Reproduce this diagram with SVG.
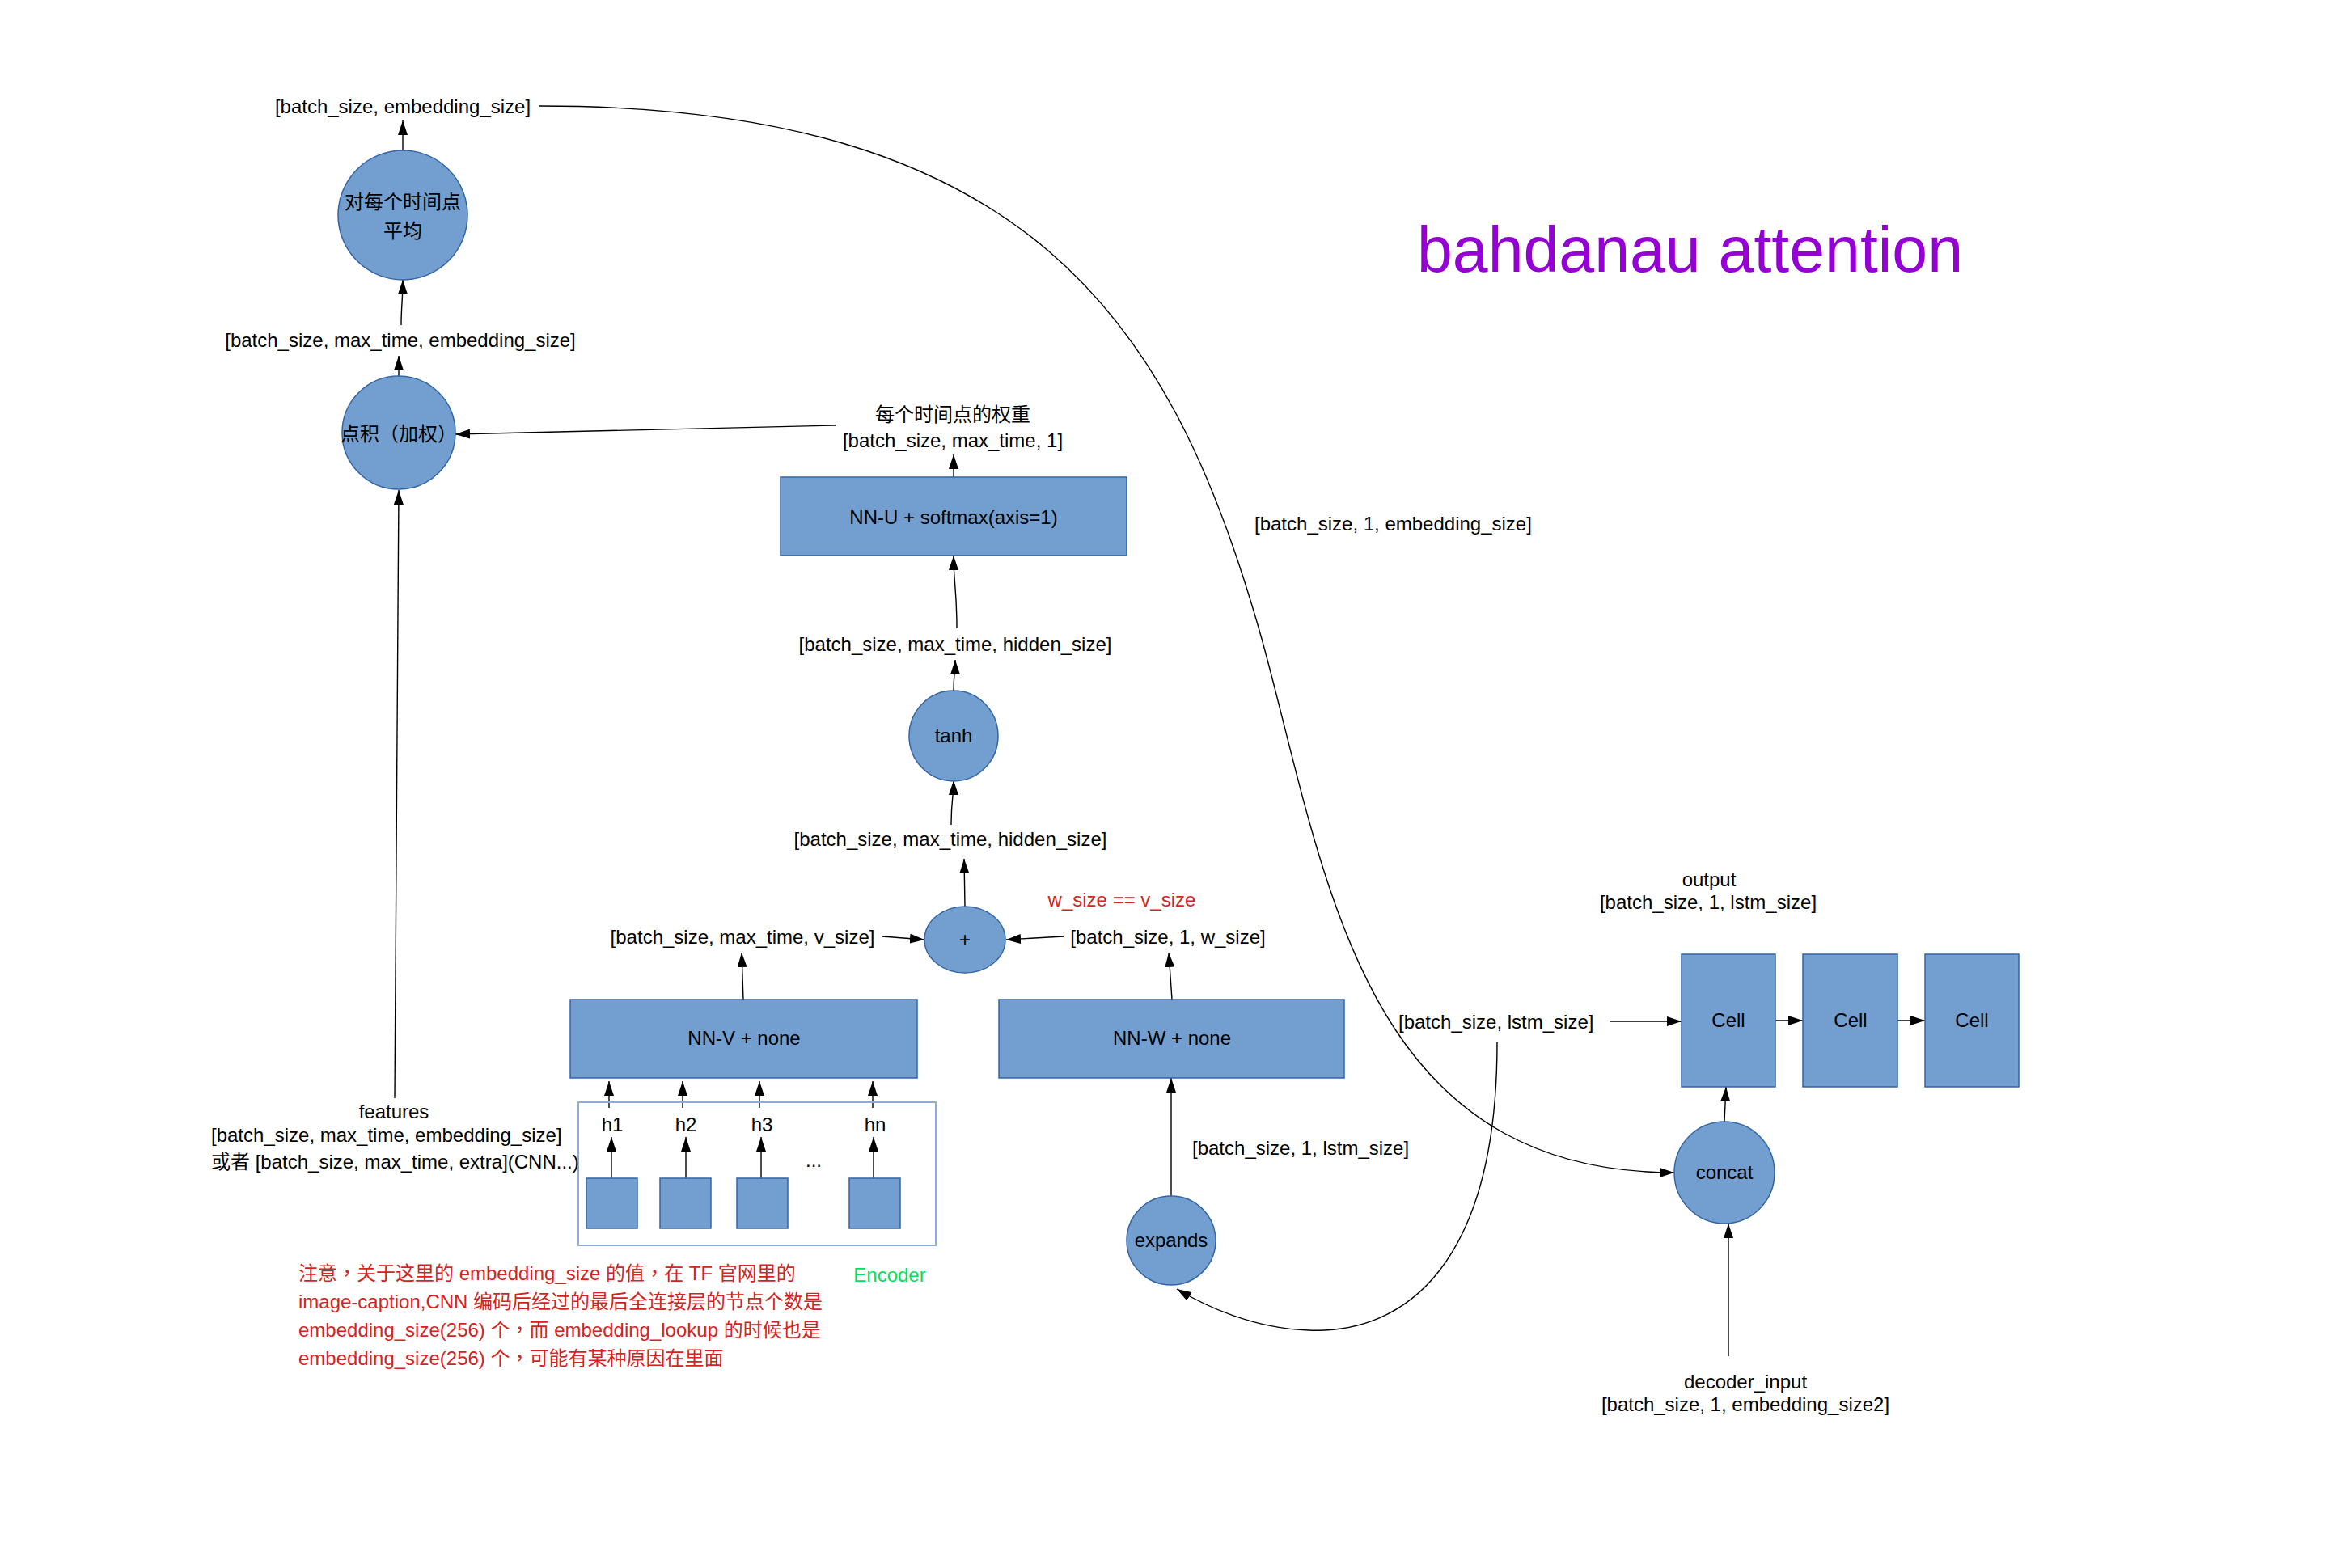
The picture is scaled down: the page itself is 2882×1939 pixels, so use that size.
<svg xmlns="http://www.w3.org/2000/svg" width="2882" height="1939" viewBox="0 0 2882 1939">
<defs>
<marker id="ah" markerWidth="18" markerHeight="12" refX="18" refY="6" orient="auto" markerUnits="userSpaceOnUse"><path d="M0,0 L18,6 L0,12 z" fill="#000"/></marker>
<style>
.n{fill:#729fcf;stroke:#3465a4;stroke-width:1.5}
.t{font-family:"Liberation Sans","Noto Sans CJK SC",sans-serif;font-size:24px;fill:#000}
.c{text-anchor:middle}
.e{fill:none;stroke:#000;stroke-width:1.4;marker-end:url(#ah)}
.red{fill:#d6231e}
.p{font-family:"Noto Sans CJK TC",sans-serif}
</style>
</defs>
<rect width="2882" height="1939" fill="#fff"/>

<g id="connectors">
<path class="e" d="M498,187 L498,149"/>
<path class="e" d="M496,402 C496,380 498,370 498,346"/>
<path class="e" d="M493,466 L493,440"/>
<path class="e" d="M1033,526 L563,537"/>
<path class="e" d="M488,1358 L493,606"/>
<path class="e" d="M1179,590 L1179,562"/>
<path class="e" d="M1183,777 C1183,730 1179,720 1179,687"/>
<path class="e" d="M1179,854 C1179,835 1181,830 1181,816"/>
<path class="e" d="M1176,1020 C1176,990 1179,985 1179,965"/>
<path class="e" d="M1193,1121 L1192,1062"/>
<path class="e" d="M1091,1158 L1143,1162"/>
<path class="e" d="M1315,1158 L1244,1162"/>
<path class="e" d="M919,1236 L917,1178"/>
<path class="e" d="M1449,1236 L1445,1178"/>
<path class="e" d="M753,1370 L753,1337"/>
<path class="e" d="M844,1370 L844,1337"/>
<path class="e" d="M939,1370 L939,1337"/>
<path class="e" d="M1079,1370 L1079,1337"/>
<path class="e" d="M756,1457 L756,1406"/>
<path class="e" d="M848,1457 L848,1406"/>
<path class="e" d="M941,1457 L941,1406"/>
<path class="e" d="M1080,1457 L1080,1406"/>
<path class="e" d="M1448,1479 L1448,1333"/>
<path class="e" d="M1851,1289 C1851,1560 1740,1650 1618,1645 C1550,1643 1490,1615 1455,1594"/>
<path class="e" d="M667,131 C1267,131 1448,390 1560,790 C1640,1080 1680,1450 2070,1450"/>
<path class="e" d="M1990,1263 L2079,1263"/>
<path class="e" d="M2195,1262 L2229,1262"/>
<path class="e" d="M2346,1262 L2380,1262"/>
<path class="e" d="M2132,1387 L2134,1344"/>
<path class="e" d="M2137,1677 L2137,1513"/>
</g>

<g id="node-avg">
<circle class="n" cx="498" cy="266" r="80"/>
<text class="t c" x="498" y="258">对每个时间点</text>
<text class="t c" x="498" y="294">平均</text>
</g>
<g id="node-dot">
<circle class="n" cx="493" cy="535" r="70"/>
<text class="t c" x="493" y="545">点积<tspan class="p">（</tspan>加权<tspan class="p">）</tspan></text>
</g>
<g id="node-nnu">
<rect class="n" x="965" y="590" width="428" height="97"/>
<text class="t c" x="1179" y="648">NN-U + softmax(axis=1)</text>
</g>
<g id="node-tanh">
<ellipse class="n" cx="1179" cy="910" rx="55" ry="56"/>
<text class="t c" x="1179" y="918">tanh</text>
</g>
<g id="node-plus">
<ellipse class="n" cx="1193" cy="1162" rx="50" ry="41"/>
<text class="t c" x="1193" y="1170">+</text>
</g>
<g id="node-nnv">
<rect class="n" x="705" y="1236" width="429" height="97"/>
<text class="t c" x="920" y="1292">NN-V + none</text>
</g>
<g id="node-nnw">
<rect class="n" x="1235" y="1236" width="427" height="97"/>
<text class="t c" x="1449" y="1292">NN-W + none</text>
</g>
<g id="node-encoder">
<rect x="715" y="1363" width="442" height="177" fill="none" stroke="#8eaad8" stroke-width="2"/>
<rect class="n" x="725" y="1457" width="63" height="62"/>
<rect class="n" x="816" y="1457" width="63" height="62"/>
<rect class="n" x="911" y="1457" width="63" height="62"/>
<rect class="n" x="1050" y="1457" width="63" height="62"/>
<text class="t c" x="757" y="1399">h1</text>
<text class="t c" x="848" y="1399">h2</text>
<text class="t c" x="942" y="1399">h3</text>
<text class="t c" x="1082" y="1399">hn</text>
<text class="t c" x="1006" y="1443">...</text>
<text class="t c" x="1100" y="1585" style="fill:#00e25a">Encoder</text>
</g>
<g id="node-expands">
<ellipse class="n" cx="1448" cy="1534" rx="55" ry="55"/>
<text class="t c" x="1448" y="1542">expands</text>
</g>
<g id="node-concat">
<ellipse class="n" cx="2132" cy="1450" rx="62" ry="63"/>
<text class="t c" x="2132" y="1458">concat</text>
</g>
<g id="node-cell1">
<rect class="n" x="2079" y="1180" width="116" height="164"/>
<text class="t c" x="2137" y="1270">Cell</text>
</g>
<g id="node-cell2">
<rect class="n" x="2229" y="1180" width="117" height="164"/>
<text class="t c" x="2288" y="1270">Cell</text>
</g>
<g id="node-cell3">
<rect class="n" x="2380" y="1180" width="116" height="164"/>
<text class="t c" x="2438" y="1270">Cell</text>
</g>

<g id="labels">
<text class="t c" x="498" y="140">[batch_size, embedding_size]</text>
<text class="t c" x="495" y="429">[batch_size, max_time, embedding_size]</text>
<text class="t c" x="1178" y="521">每个时间点的权重</text>
<text class="t c" x="1178" y="553">[batch_size, max_time, 1]</text>
<text class="t c" x="1181" y="805">[batch_size, max_time, hidden_size]</text>
<text class="t c" x="1175" y="1046">[batch_size, max_time, hidden_size]</text>
<text class="t c" x="918" y="1167">[batch_size, max_time, v_size]</text>
<text class="t c" x="1444" y="1167">[batch_size, 1, w_size]</text>
<text class="t c red" x="1387" y="1121">w_size == v_size</text>
<text class="t c" x="487" y="1383">features</text>
<text class="t" x="261" y="1412">[batch_size, max_time, embedding_size]</text>
<text class="t" x="261" y="1445">或者 [batch_size, max_time, extra](CNN...)</text>
<text class="t red" x="369" y="1583">注意<tspan class="p">，</tspan>关于这里的 embedding_size 的值<tspan class="p">，</tspan>在 TF 官网里的</text>
<text class="t red" x="369" y="1618">image-caption,CNN 编码后经过的最后全连接层的节点个数是</text>
<text class="t red" x="369" y="1653">embedding_size(256) 个<tspan class="p">，</tspan>而 embedding_lookup 的时候也是</text>
<text class="t red" x="369" y="1688">embedding_size(256) 个<tspan class="p">，</tspan>可能有某种原因在里面</text>
<text class="t" x="1474" y="1428">[batch_size, 1, lstm_size]</text>
<text class="t" x="1729" y="1272">[batch_size, lstm_size]</text>
<text class="t" x="1551" y="656">[batch_size, 1, embedding_size]</text>
<text class="t c" x="2113" y="1096">output</text>
<text class="t c" x="2112" y="1124">[batch_size, 1, lstm_size]</text>
<text class="t c" x="2158" y="1717">decoder_input</text>
<text class="t c" x="2158" y="1745">[batch_size, 1, embedding_size2]</text>
<text class="t" x="1752" y="336" style="font-size:80px;fill:#9400d3" textLength="675" lengthAdjust="spacingAndGlyphs">bahdanau attention</text>
</g>
</svg>
